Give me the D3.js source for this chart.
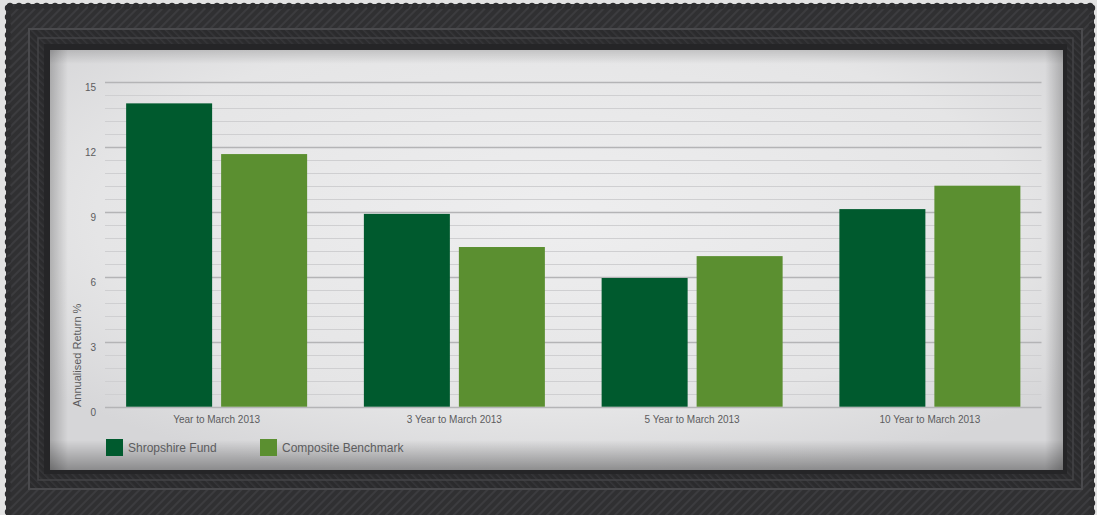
<!DOCTYPE html>
<html><head><meta charset="utf-8">
<script src="https://cdn.jsdelivr.net/npm/d3@7/dist/d3.min.js"></script>
<style>html,body{margin:0;padding:0;background:#e4e4e4;overflow:hidden}svg{display:block}</style>
</head><body>
<svg id="c" width="1097" height="515"></svg>
<script>
const categories = ["Year to March 2013","3 Year to March 2013","5 Year to March 2013","10 Year to March 2013"];
const seriesNames = ["Shropshire Fund","Composite Benchmark"];
const fundValues = [14.0, 8.9, 5.94, 9.12];
const benchValues = [11.66, 7.37, 6.95, 10.2];
const yTicks = [0,3,6,9,12,15];
const gridStep = 0.6;
const colors = ["#005a2e","#5b8f30"];

const svg = d3.select("#c");
const W = 1097, H = 515;
const defs = svg.append("defs");

// frame texture
const pat = defs.append("pattern").attr("id","hatch").attr("width",6).attr("height",6)
  .attr("patternUnits","userSpaceOnUse").attr("patternTransform","rotate(45)");
pat.append("rect").attr("width",6).attr("height",6).attr("fill","#303032");
pat.append("rect").attr("width",2).attr("height",6).attr("fill","#3c3c3f");
const pat2 = defs.append("pattern").attr("id","hatch2").attr("width",5).attr("height",5)
  .attr("patternUnits","userSpaceOnUse").attr("patternTransform","rotate(-45)");
pat2.append("rect").attr("width",5).attr("height",5).attr("fill","#2b2b2d");
pat2.append("rect").attr("width",1.5).attr("height",5).attr("fill","#363639");

const rg = defs.append("radialGradient").attr("id","paper").attr("cx","50%").attr("cy","40%").attr("r","65%");
rg.append("stop").attr("offset","0%").attr("stop-color","#eeeeef");
rg.append("stop").attr("offset","70%").attr("stop-color","#e5e5e6");
rg.append("stop").attr("offset","100%").attr("stop-color","#d6d6d8");
const lgB = defs.append("linearGradient").attr("id","shB").attr("x1",0).attr("y1",0).attr("x2",0).attr("y2",1);
lgB.append("stop").attr("offset","0%").attr("stop-color","#000").attr("stop-opacity",0);
lgB.append("stop").attr("offset","100%").attr("stop-color","#000").attr("stop-opacity",0.35);
const lgL = defs.append("linearGradient").attr("id","shL").attr("x1",0).attr("y1",0).attr("x2",1).attr("y2",0);
lgL.append("stop").attr("offset","0%").attr("stop-color","#000").attr("stop-opacity",0.22);
lgL.append("stop").attr("offset","100%").attr("stop-color","#000").attr("stop-opacity",0);
const lgR = defs.append("linearGradient").attr("id","shR").attr("x1",1).attr("y1",0).attr("x2",0).attr("y2",0);
lgR.append("stop").attr("offset","0%").attr("stop-color","#000").attr("stop-opacity",0.22);
lgR.append("stop").attr("offset","100%").attr("stop-color","#000").attr("stop-opacity",0);
const lgT = defs.append("linearGradient").attr("id","shT").attr("x1",0).attr("y1",0).attr("x2",0).attr("y2",1);
lgT.append("stop").attr("offset","0%").attr("stop-color","#000").attr("stop-opacity",0.15);
lgT.append("stop").attr("offset","100%").attr("stop-color","#000").attr("stop-opacity",0);

// background & frame
svg.append("rect").attr("width",W).attr("height",H).attr("fill","#e2e2e2");
svg.append("rect").attr("x",6).attr("y",4).attr("width",1088).attr("height",520).attr("rx",3).attr("fill","url(#hatch)");
const sc = svg.append("g").attr("fill","#2e2e30");
for (let x = 10; x < 1094; x += 9) { sc.append("circle").attr("cx",x).attr("cy",6).attr("r",3.2); }
for (let y = 8; y < 515; y += 9) { sc.append("circle").attr("cx",8).attr("cy",y).attr("r",3.2); sc.append("circle").attr("cx",1092).attr("cy",y).attr("r",3.2); }
svg.append("rect").attr("x",28).attr("y",28).attr("width",1055).attr("height",462).attr("fill","url(#hatch2)");
svg.append("rect").attr("x",29).attr("y",29).attr("width",1053).attr("height",460).attr("fill","none").attr("stroke","#4a4a4d").attr("stroke-width",2);
svg.append("rect").attr("x",38).attr("y",38).attr("width",1035).attr("height",442).attr("fill","none").attr("stroke","#444447").attr("stroke-width",1.5);
svg.append("rect").attr("x",44).attr("y",44).attr("width",1023).attr("height",430).attr("fill","#252527");

// paper
const px0 = 50, py0 = 50, px1 = 1063, py1 = 470;
svg.append("rect").attr("x",px0).attr("y",py0).attr("width",px1-px0).attr("height",py1-py0).attr("fill","url(#paper)");
svg.append("rect").attr("x",px0).attr("y",py1-30).attr("width",px1-px0).attr("height",30).attr("fill","url(#shB)");
svg.append("rect").attr("x",px0).attr("y",py0).attr("width",18).attr("height",py1-py0).attr("fill","url(#shL)");
svg.append("rect").attr("x",px1-18).attr("y",py0).attr("width",18).attr("height",py1-py0).attr("fill","url(#shR)");
svg.append("rect").attr("x",px0).attr("y",py0).attr("width",px1-px0).attr("height",14).attr("fill","url(#shT)");

// scales
const y = d3.scaleLinear().domain([0,15]).range([406.7, 81.7]);
const x0 = d3.scaleBand().domain(categories).range([97.75, 1048.75]).paddingInner(0.2387).paddingOuter(0.2387/2);
const x1 = d3.scaleBand().domain(seriesNames).range([0, x0.bandwidth()]).paddingInner(0.0947);
const gx0 = 105, gx1 = 1041.5;

// grid
const gridVals = d3.range(0, 15 + 1e-9, gridStep).map(v => +v.toFixed(2));
const isMajor = d => Math.abs(d/3 - Math.round(d/3)) < 1e-6;
svg.append("g").selectAll("line").data(gridVals).join("line")
  .attr("x1",gx0).attr("x2",gx1)
  .attr("y1",d=>Math.round(y(d))+0.5).attr("y2",d=>Math.round(y(d))+0.5)
  .attr("stroke",d=> isMajor(d) ? "#b4b4b6" : "#cfcfd1")
  .attr("stroke-width",d=> isMajor(d) ? 1.6 : 1.2);

// y axis labels
const yAxis = d3.axisLeft(y).tickValues(yTicks).tickSize(0).tickPadding(0);
const ya = svg.append("g").attr("transform","translate(96,0)").call(yAxis);
ya.select(".domain").remove();
ya.selectAll("text").attr("fill","#5c5c5e").attr("font-family","Liberation Sans, Arial, sans-serif").attr("font-size",10).attr("dy","0.85em");

svg.append("text").attr("transform","translate(81,407) rotate(-90)").attr("text-anchor","start")
  .attr("font-family","Liberation Sans, Arial, sans-serif").attr("font-size",11).attr("fill","#5c5c5e")
  .text("Annualised Return %");

// bars
const rows = categories.map((c,i)=>({cat:c, vals:[fundValues[i], benchValues[i]]}));
const g = svg.append("g");
g.selectAll("g").data(rows).join("g").attr("transform",d=>`translate(${x0(d.cat)},0)`)
  .selectAll("rect").data(d=>d.vals.map((v,j)=>({name:seriesNames[j], v, j})))
  .join("rect")
  .attr("x",d=>x1(d.name)).attr("width",x1.bandwidth())
  .attr("y",d=>y(d.v)).attr("height",d=>y(0)-y(d.v))
  .attr("fill",d=>colors[d.j]);

// x axis labels
const xAxis = d3.axisBottom(x0).tickSize(0).tickPadding(0);
const xa = svg.append("g").attr("transform","translate(0,416)").call(xAxis);
xa.select(".domain").remove();
xa.selectAll("text").attr("fill","#5c5c5e").attr("font-family","Liberation Sans, Arial, sans-serif").attr("font-size",10);

// legend
const legX = [106, 260];
const lg = svg.append("g");
seriesNames.forEach((n,i)=>{
  lg.append("rect").attr("x",legX[i]).attr("y",439).attr("width",17).attr("height",17).attr("fill",colors[i]);
  lg.append("text").attr("x",legX[i]+22).attr("y",448).attr("dy","0.35em")
    .attr("font-family","Liberation Sans, Arial, sans-serif").attr("font-size",12).attr("fill","#5c5c5e").text(n);
});
</script>
</body></html>
